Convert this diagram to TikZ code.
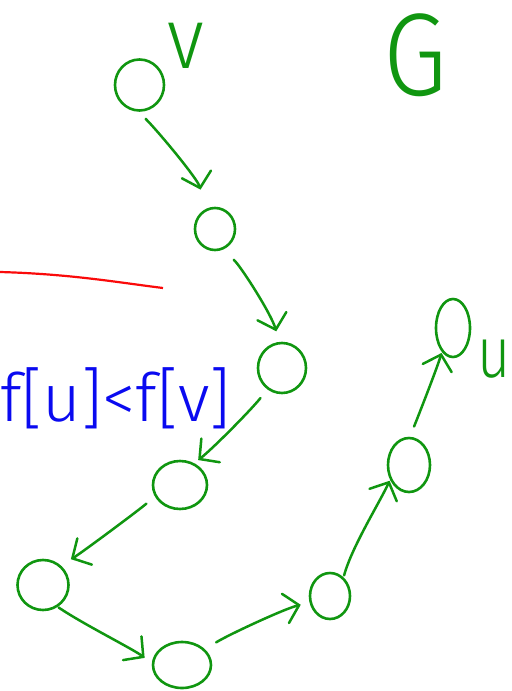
\documentclass[tikz,border=0pt]{standalone}
\usepackage{fontspec}
\IfFontExistsTF{Fira Sans Light}{\newfontfamily\hand{Fira Sans Light}}{%
  \IfFontExistsTF{Lato Light}{\newfontfamily\hand{Lato Light}}{%
    \IfFontExistsTF{DejaVu Sans ExtraLight}{\newfontfamily\hand{DejaVu Sans ExtraLight}}{%
      \newfontfamily\hand{Latin Modern Sans}}}}
\usetikzlibrary{arrows.meta,shapes.geometric}
\definecolor{pen}{RGB}{16,150,16}
\definecolor{inkblue}{RGB}{10,10,240}
\definecolor{inkred}{RGB}{250,10,10}
\begin{document}
\begin{tikzpicture}[x=1bp,y=-1bp,
  vert/.style={draw=pen,line width=2.6bp,ellipse,inner sep=0pt},
  arr/.style={draw=pen,line width=2.5bp,line cap=round,
    -{Straight Barb[length=14bp,width=30bp,line cap=round]}},
  lab/.style={text=pen,inner sep=0pt,font=\hand}]
\useasboundingbox (0,0) rectangle (512,691);
% vertices
\node[vert,minimum width=49bp,minimum height=51bp] (v)  at (139.5,85) {};
\node[vert,minimum width=40bp,minimum height=42bp] (n2) at (215,229) {};
\node[vert,minimum width=48bp,minimum height=50bp] (n3) at (282,368) {};
\node[vert,minimum width=54bp,minimum height=48bp] (n4) at (180,485) {};
\node[vert,minimum width=51bp,minimum height=50bp] (n5) at (43,585) {};
\node[vert,minimum width=58bp,minimum height=46bp] (n6) at (182,665) {};
\node[vert,minimum width=40bp,minimum height=46bp] (n7) at (330,596) {};
\node[vert,minimum width=42bp,minimum height=54bp] (n8) at (409,465) {};
\node[vert,minimum width=34bp,minimum height=58bp] (u)  at (453,328) {};
% labels
\node[lab,xscale=0.9] (lv) at (186,46) {\fontsize{87}{87}\selectfont v};
\node[lab,xscale=0.88] (lG) at (415,55) {\fontsize{118}{118}\selectfont G};
\node[lab,xscale=0.8] (lu) at (494,359) {\fontsize{72}{72}\selectfont u};
\node[text=inkblue,inner sep=0pt,anchor=west,font=\hand] (cond) at (0,398)
  {\fontsize{67}{67}\selectfont f[u]<f[v]};
% red stroke
\draw[inkred,line width=2.2bp] (0,272) .. controls (70,274) and (115,282) .. (163,288);
% arrows
\draw[arr,shorten <=10bp,shorten >=20bp] (v.-92)  .. controls +(20,20) and +(-8,-30) .. (n2.115);
\draw[arr,shorten <=15bp,shorten >=11bp] (n2.-70) .. controls +(18,16) and +(-8,-28) .. (n3.96);
\draw[arr,shorten <=11bp,shorten >=5bp]  (n3.-124) .. controls +(-18,22) and +(18,-14) .. (n4.57);
\draw[arr,shorten <=11bp,shorten >=12bp] (n4.-155) .. controls +(-22,18) and +(18,-10) .. (n5.49);
\draw[arr,shorten <=1bp,shorten >=9bp]   (n5.-56) .. controls +(25,17) and +(-18,-14) .. (n6.177);
\draw[arr,shorten <=13bp,shorten >=9bp]  (n6.34) .. controls +(22,-14) and +(-25,6) .. (n7.-162);
\draw[arr,shorten <=2bp,shorten >=1bp]   (n7.54) .. controls +(8,-30) and +(-10,22) .. (n8.-142);
\draw[arr,shorten <=11bp,shorten >=1bp]  (n8.88) .. controls +(10,-25) and +(-4,14) .. (u.-115);
\end{tikzpicture}
\end{document}
